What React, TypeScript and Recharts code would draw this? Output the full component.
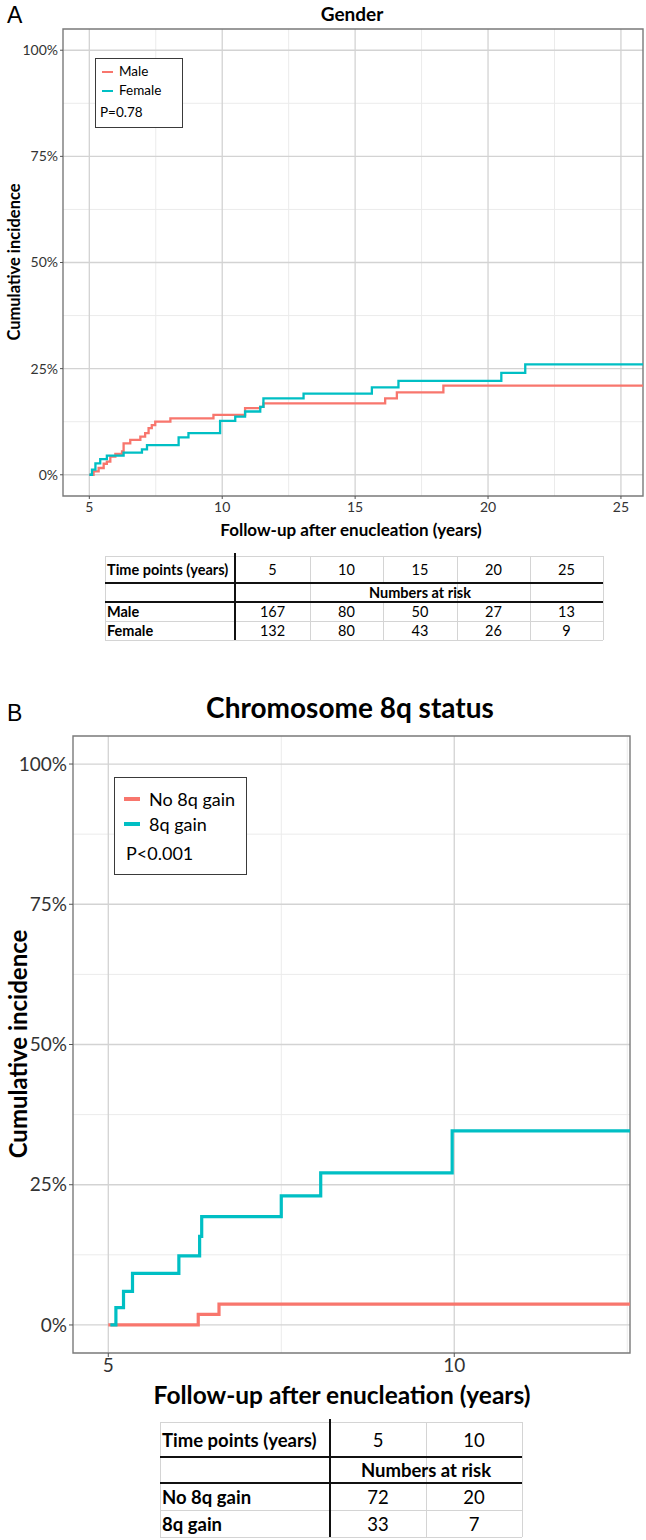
import React from 'react';
import { LineChart, Line, XAxis, YAxis, CartesianGrid, ReferenceArea } from 'recharts';

const FONT = 'Lato, "Open Sans", sans-serif';
const RED = '#F8766D';
const TEAL = '#00BFC4';

// Panel A – gender (years after enucleation, cumulative incidence in %)
const maleYears = [5.0, 5.16, 5.35, 5.54, 5.66, 5.79, 5.98, 6.23, 6.29, 6.54, 6.92, 7.1, 7.23, 7.35, 7.48, 8.05, 9.67, 10.86, 11.43, 11.55, 16.13, 16.57, 18.32, 25.83];
const maleIncidence = [0, 0.8, 1.6, 2.6, 3.1, 4.3, 4.9, 5.5, 7.4, 8.2, 9.0, 9.8, 11.0, 11.7, 12.5, 13.3, 14.1, 15.7, 16.0, 16.8, 18.0, 19.4, 21.0, 21.0];
const femaleYears = [5.0, 5.1, 5.23, 5.41, 5.66, 6.29, 6.98, 7.17, 8.36, 8.73, 9.92, 10.49, 10.86, 11.43, 11.55, 13.06, 15.63, 16.63, 20.5, 21.4, 25.83];
const femaleIncidence = [0, 1.2, 2.7, 3.7, 4.5, 5.2, 6.0, 7.0, 8.8, 9.8, 12.7, 13.7, 14.9, 16.0, 18.0, 19.1, 20.6, 22.1, 24.0, 26.0, 26.0];
const genderXTicks = [5, 10, 15, 20, 25];
const genderMinorX = [7.5, 12.5, 17.5, 22.5];

// Panel B – chromosome 8q
const noGainYears = [5.0, 6.3, 6.6, 12.54];
const noGainIncidence = [0, 1.9, 3.7, 3.7];
const gainYears = [5.03, 5.11, 5.22, 5.35, 6.02, 6.32, 6.35, 7.5, 8.07, 9.97, 12.54];
const gainIncidence = [0, 3.1, 6.0, 9.2, 12.3, 15.8, 19.3, 23.0, 27.1, 34.6, 34.6];
const chromXTicks = [5, 10];
const chromMinorX = [7.5, 12.5];

const yTicks = [0, 25, 50, 75, 100];
const yMinor = [12.5, 37.5, 62.5, 87.5];

// numbers at risk
const genderTimePoints = ['5', '10', '15', '20', '25'];
const maleAtRisk = [167, 80, 50, 27, 13];
const femaleAtRisk = [132, 80, 43, 26, 9];
const chromTimePoints = ['5', '10'];
const noGainAtRisk = [72, 20];
const gainAtRisk = [33, 7];

type Pt = { x: number; y: number };
const toPoints = (xs: number[], ys: number[]): Pt[] => xs.map((x, i) => ({ x, y: ys[i] }));

interface Series {
  name: string;
  color: string;
  points: Pt[];
}

interface PlotProps {
  width: number;
  height: number;
  margin: { top: number; right: number; bottom: number; left: number };
  yAxisWidth: number;
  xAxisHeight: number;
  xDomain: [number, number];
  xTicks: number[];
  minorX: number[];
  series: Series[];
  fontSize: number;
  lineWidth: number;
  tickSize: number;
  xTickMargin: number;
}

const IncidencePlot = (p: PlotProps) => {
  const tick = { fill: '#333', fontSize: p.fontSize, fontFamily: FONT };
  return (
    <LineChart width={p.width} height={p.height} margin={p.margin}>
      <CartesianGrid verticalValues={p.minorX} horizontalValues={yMinor} stroke="#EBEBEB" strokeWidth={1} />
      <CartesianGrid verticalValues={p.xTicks} horizontalValues={yTicks} stroke="#D3D3D3" strokeWidth={1.3} />
      <XAxis
        dataKey="x"
        type="number"
        domain={p.xDomain}
        ticks={p.xTicks}
        allowDataOverflow
        interval={0}
        height={p.xAxisHeight}
        axisLine={false}
        tickSize={p.tickSize}
        tickMargin={p.xTickMargin}
        tickLine={{ stroke: '#555' }}
        tick={tick}
      />
      <YAxis
        type="number"
        domain={[-5, 105]}
        ticks={yTicks}
        allowDataOverflow
        interval={0}
        width={p.yAxisWidth}
        axisLine={false}
        tickSize={p.tickSize}
        tickMargin={2}
        tickLine={{ stroke: '#555' }}
        tickFormatter={(v: number) => `${v}%`}
        tick={tick}
      />
      <ReferenceArea
        x1={p.xDomain[0]}
        x2={p.xDomain[1]}
        y1={-5}
        y2={105}
        fill="none"
        stroke="#7a7a7a"
        strokeWidth={1.4}
        ifOverflow="visible"
      />
      {p.series.map((s) => (
        <Line
          key={s.name}
          data={s.points}
          dataKey="y"
          name={s.name}
          type="stepAfter"
          stroke={s.color}
          strokeWidth={p.lineWidth}
          dot={false}
          activeDot={false}
          isAnimationActive={false}
        />
      ))}
    </LineChart>
  );
};

interface TxtProps {
  x: number;
  y: number;
  size: number;
  bold?: boolean;
  anchor?: 'start' | 'middle';
  family?: string;
  children: React.ReactNode;
}

// text placed by its vertical centre
const Txt = ({ x, y, size, bold, anchor = 'middle', family = FONT, children }: TxtProps) => (
  <div
    style={{
      position: 'absolute',
      left: x,
      top: y,
      transform: `translate(${anchor === 'middle' ? '-50%' : '0'}, -50%)`,
      fontFamily: family,
      fontSize: size,
      fontWeight: bold ? 700 : 400,
      lineHeight: 1,
      whiteSpace: 'nowrap',
      color: '#000',
    }}
  >
    {children}
  </div>
);

const RotTxt = ({ x, y, size, children }: { x: number; y: number; size: number; children: React.ReactNode }) => (
  <div
    style={{
      position: 'absolute',
      left: x,
      top: y,
      transform: 'translate(-50%, -50%) rotate(-90deg)',
      fontFamily: FONT,
      fontSize: size,
      fontWeight: 700,
      lineHeight: 1,
      whiteSpace: 'nowrap',
    }}
  >
    {children}
  </div>
);

interface LegendProps {
  left: number;
  top: number;
  width: number;
  height: number;
  items: { label: string; color: string; y: number }[];
  pText: string;
  pY: number;
  pX: number;
  dashX: number;
  dashW: number;
  dashH: number;
  textX: number;
  size: number;
}

const LegendBox = (l: LegendProps) => (
  <>
    <div
      style={{
        position: 'absolute',
        left: l.left,
        top: l.top,
        width: l.width,
        height: l.height,
        border: '1.3px solid #3a3a3a',
        background: '#fff',
        boxSizing: 'border-box',
      }}
    />
    {l.items.map((it) => (
      <React.Fragment key={it.label}>
        <div
          style={{
            position: 'absolute',
            left: l.dashX,
            top: it.y - l.dashH / 2,
            width: l.dashW,
            height: l.dashH,
            background: it.color,
          }}
        />
        <Txt x={l.textX} y={it.y} size={l.size} anchor="start">
          {it.label}
        </Txt>
      </React.Fragment>
    ))}
    <Txt x={l.pX} y={l.pY} size={l.size} anchor="start">
      {l.pText}
    </Txt>
  </>
);

interface TableProps {
  left: number;
  top: number;
  colWidths: number[];
  rowHeights: number[];
  size: number;
  timePoints: string[];
  rows: { label: string; values: number[] }[];
  span: [number, number];
}

const RiskTable = (t: TableProps) => {
  const xs = [t.left];
  t.colWidths.forEach((w) => xs.push(xs[xs.length - 1] + w));
  const ys = [t.top];
  t.rowHeights.forEach((h) => ys.push(ys[ys.length - 1] + h));
  const right = xs[xs.length - 1];
  const bottom = ys[ys.length - 1];
  const thin = '#D4D4D4';
  const lines: React.ReactNode[] = [];
  // thin horizontal lines
  [0, 3, 4].forEach((r) =>
    lines.push(<div key={`h${r}`} style={{ position: 'absolute', left: xs[0], top: ys[r], width: right - xs[0], height: 1, background: thin }} />)
  );
  // thin vertical lines
  xs.forEach((x, c) => {
    if (c === 1) return;
    for (let r = 0; r < t.rowHeights.length; r++) {
      const inSpan = r === 1 && c > t.span[0] + 1 && c < t.span[1] + 1;
      if (inSpan) continue;
      lines.push(
        <div key={`v${c}-${r}`} style={{ position: 'absolute', left: x, top: ys[r], width: 1, height: t.rowHeights[r], background: thin }} />
      );
    }
  });
  // thick black rules
  [1, 2].forEach((r) =>
    lines.push(<div key={`H${r}`} style={{ position: 'absolute', left: xs[0], top: ys[r] - 1, width: right - xs[0], height: 2, background: '#111' }} />)
  );
  lines.push(<div key="V" style={{ position: 'absolute', left: xs[1] - 1, top: ys[0] - 3, width: 2, height: bottom - ys[0] + 3, background: '#111' }} />);

  const mid = (r: number) => (ys[r] + ys[r + 1]) / 2;
  const cx = (c: number) => (xs[c] + xs[c + 1]) / 2;
  return (
    <>
      {lines}
      <Txt x={xs[0] + 2} y={mid(0)} size={t.size} bold anchor="start">
        Time points (years)
      </Txt>
      {t.timePoints.map((tp, i) => (
        <Txt key={tp} x={cx(i + 1)} y={mid(0)} size={t.size}>
          {tp}
        </Txt>
      ))}
      <Txt x={(xs[t.span[0] + 1] + xs[t.span[1] + 2]) / 2} y={mid(1)} size={t.size} bold>
        Numbers at risk
      </Txt>
      {t.rows.map((row, r) => (
        <React.Fragment key={row.label}>
          <Txt x={xs[0] + 2} y={mid(r + 2)} size={t.size} bold anchor="start">
            {row.label}
          </Txt>
          {row.values.map((v, i) => (
            <Txt key={i} x={cx(i + 1)} y={mid(r + 2)} size={t.size}>
              {v}
            </Txt>
          ))}
        </React.Fragment>
      ))}
    </>
  );
};

const App = () => {
  const genderSeries: Series[] = [
    { name: 'Male', color: RED, points: toPoints(maleYears, maleIncidence) },
    { name: 'Female', color: TEAL, points: toPoints(femaleYears, femaleIncidence) },
  ];
  const chromSeries: Series[] = [
    { name: 'No 8q gain', color: RED, points: toPoints(noGainYears, noGainIncidence) },
    { name: '8q gain', color: TEAL, points: toPoints(gainYears, gainIncidence) },
  ];

  return (
    <div style={{ position: 'absolute', left: 0, top: 0, width: 646, height: 1540, background: '#fff', overflow: 'hidden' }}>
      {/* Panel A */}
      <div style={{ position: 'absolute', left: 0, top: 0 }}>
        <IncidencePlot
          width={646}
          height={545}
          margin={{ top: 29, right: 3, bottom: 0, left: 0 }}
          yAxisWidth={63}
          xAxisHeight={49}
          xDomain={[4.01, 25.83]}
          xTicks={genderXTicks}
          minorX={genderMinorX}
          series={genderSeries}
          fontSize={14}
          lineWidth={2.3}
          tickSize={3}
          xTickMargin={3}
        />
      </div>
      <Txt x={7} y={15} size={23} anchor="start" family='"Liberation Sans", Arial, sans-serif'>
        A
      </Txt>
      <Txt x={352} y={13} size={19} bold>
        Gender
      </Txt>
      <RotTxt x={14} y={262} size={16.5}>
        Cumulative incidence
      </RotTxt>
      <Txt x={351} y={529} size={17} bold>
        Follow-up after enucleation (years)
      </Txt>
      <LegendBox
        left={95}
        top={58}
        width={88}
        height={70}
        items={[
          { label: 'Male', color: RED, y: 72 },
          { label: 'Female', color: TEAL, y: 91 },
        ]}
        pText="P=0.78"
        pX={100}
        pY={113}
        dashX={102}
        dashW={11}
        dashH={2.5}
        textX={119}
        size={13.5}
      />
      <RiskTable
        left={105}
        top={556}
        colWidths={[130, 75, 73, 74, 73, 73]}
        rowHeights={[27, 19, 19, 19]}
        size={14.5}
        timePoints={genderTimePoints}
        rows={[
          { label: 'Male', values: maleAtRisk },
          { label: 'Female', values: femaleAtRisk },
        ]}
        span={[1, 3]}
      />

      {/* Panel B */}
      <div style={{ position: 'absolute', left: 0, top: 700 }}>
        <IncidencePlot
          width={646}
          height={700}
          margin={{ top: 36, right: 16, bottom: 0, left: 0 }}
          yAxisWidth={73}
          xAxisHeight={47}
          xDomain={[4.49, 12.54]}
          xTicks={chromXTicks}
          minorX={chromMinorX}
          series={chromSeries}
          fontSize={19}
          lineWidth={3.2}
          tickSize={4}
          xTickMargin={2}
        />
      </div>
      <Txt x={7} y={713} size={23} anchor="start" family='"Liberation Sans", Arial, sans-serif'>
        B
      </Txt>
      <Txt x={350} y={707} size={28} bold>
        Chromosome 8q status
      </Txt>
      <RotTxt x={18} y={1044} size={24}>
        Cumulative incidence
      </RotTxt>
      <Txt x={342} y={1395} size={24.5} bold>
        Follow-up after enucleation (years)
      </Txt>
      <LegendBox
        left={114}
        top={777}
        width={133}
        height={98}
        items={[
          { label: 'No 8q gain', color: RED, y: 799 },
          { label: '8q gain', color: TEAL, y: 824 },
        ]}
        pText="P<0.001"
        pX={126}
        pY={853}
        dashX={124}
        dashW={16}
        dashH={3.5}
        textX={149}
        size={18}
      />
      <RiskTable
        left={160}
        top={1422}
        colWidths={[170, 96, 96]}
        rowHeights={[35, 26, 27, 27]}
        size={18.5}
        timePoints={chromTimePoints}
        rows={[
          { label: 'No 8q gain', values: noGainAtRisk },
          { label: '8q gain', values: gainAtRisk },
        ]}
        span={[0, 1]}
      />
    </div>
  );
};

export default App;
